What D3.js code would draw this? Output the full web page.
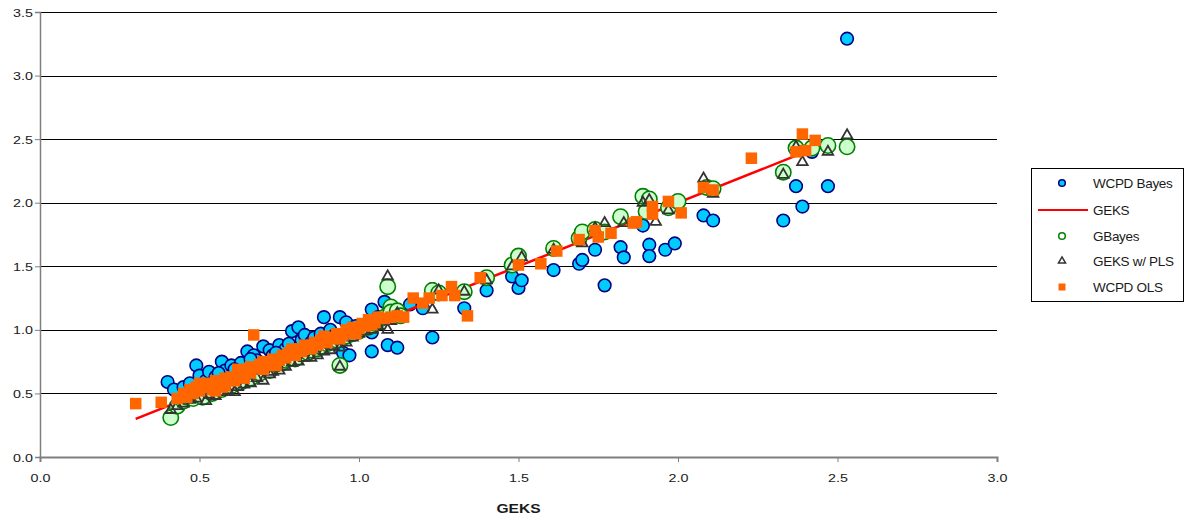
<!DOCTYPE html>
<html>
<head>
<meta charset="utf-8">
<script src="https://cdn.jsdelivr.net/npm/d3@7/dist/d3.min.js"></script>
<style>
  html, body { margin: 0; padding: 0; background: #fff; }
  svg { display: block; }
  text { font-family: "Liberation Sans", Arial, sans-serif; fill: #1a1a1a; }
</style>
</head>
<body>
<svg id="chart" width="1189" height="522"></svg>
<script>
// ---------------- DATA ----------------
const xTicks = [0.0, 0.5, 1.0, 1.5, 2.0, 2.5, 3.0];
const yTicks = [0.0, 0.5, 1.0, 1.5, 2.0, 2.5, 3.0, 3.5];
const seriesNames = ["WCPD Bayes", "GEKS", "GBayes", "GEKS w/ PLS", "WCPD OLS"];
const xTitle = "GEKS";

// WCPD Bayes
const bayesX = [0.40,0.42,0.45,0.47,0.49,0.50,0.52,0.53,0.55,0.57,0.58,0.60,0.62,0.63,0.65,0.67,0.68,0.70,0.72,0.73,
  0.75,0.77,0.79,0.81,0.82,0.83,0.85,0.86,0.88,0.89,0.91,0.92,0.94,0.95,0.97,0.96,0.98,0.99,1.01,1.04,
  1.04,1.04,1.06,1.07,1.08,1.09,1.10,1.12,1.13,1.16,1.20,1.23,1.23,1.25,1.33,1.40,1.48,1.50,1.51,1.61,
  1.69,1.70,1.74,1.77,1.82,1.83,1.89,1.91,1.91,1.96,1.99,2.08,2.11,2.33,2.37,2.39,2.42,2.47,2.53,
  0.56,0.61,0.66,0.74,0.78];
const bayesY = [0.59,0.53,0.55,0.58,0.72,0.64,0.60,0.67,0.63,0.75,0.68,0.72,0.70,0.74,0.83,0.80,0.76,0.87,0.84,0.80,
  0.88,0.85,0.99,1.02,0.92,0.96,0.90,0.94,0.97,1.10,1.00,0.95,1.10,0.82,0.80,1.06,1.00,1.03,1.02,1.16,
  0.98,0.83,1.10,1.08,1.22,0.88,1.15,0.86,1.12,1.20,1.17,0.94,1.32,1.29,1.17,1.31,1.42,1.33,1.39,1.47,
  1.52,1.55,1.63,1.35,1.65,1.57,1.82,1.67,1.58,1.63,1.68,1.90,1.86,1.86,2.13,1.97,2.40,2.13,3.29,
  0.66,0.69,0.77,0.82,0.89];

// GEKS (reference line)
const geksX = [0.30, 2.38];
const geksY = [0.30, 2.38];

// GBayes
const gbayesX = [0.41,0.43,0.45,0.46,0.48,0.50,0.51,0.53,0.54,0.56,0.57,0.59,0.60,0.62,0.63,0.65,0.66,0.68,0.69,0.71,
  0.72,0.74,0.76,0.77,0.79,0.80,0.82,0.84,0.85,0.87,0.88,0.90,0.91,0.93,0.94,0.95,0.96,0.98,1.00,1.01,
  1.03,1.05,1.06,1.08,1.09,1.10,1.10,1.12,1.13,1.23,1.25,1.33,1.40,1.48,1.50,1.61,1.69,1.70,1.74,1.77,
  1.82,1.89,1.91,1.90,1.97,2.00,2.09,2.11,2.33,2.37,2.42,2.47,2.53];
const gbayesY = [0.31,0.40,0.44,0.47,0.46,0.49,0.47,0.52,0.50,0.55,0.53,0.58,0.56,0.61,0.59,0.64,0.62,0.67,0.66,0.70,
  0.68,0.73,0.74,0.76,0.78,0.77,0.81,0.82,0.84,0.85,0.87,0.89,0.90,0.92,0.72,0.94,0.95,0.97,0.99,1.01,
  1.02,1.05,1.08,1.10,1.34,1.18,1.14,1.15,1.11,1.31,1.29,1.30,1.41,1.51,1.58,1.64,1.72,1.77,1.79,1.77,
  1.89,2.05,2.03,1.93,1.96,2.01,2.12,2.11,2.24,2.43,2.43,2.45,2.44];

// GEKS w/ PLS
const plsX = [0.41,0.43,0.45,0.47,0.49,0.52,0.53,0.55,0.57,0.59,0.61,0.62,0.64,0.66,0.68,0.70,0.72,0.73,0.75,0.77,
  0.79,0.81,0.83,0.85,0.87,0.89,0.91,0.92,0.94,0.94,0.96,0.98,1.00,1.02,1.04,1.06,1.09,1.09,1.10,1.12,
  1.23,1.25,1.33,1.40,1.48,1.51,1.61,1.70,1.74,1.77,1.83,1.89,1.91,1.93,1.97,2.08,2.11,2.33,2.37,2.39,
  2.47,2.53];
const plsY = [0.37,0.40,0.42,0.45,0.46,0.44,0.49,0.48,0.51,0.52,0.51,0.55,0.57,0.58,0.62,0.60,0.65,0.67,0.68,0.71,
  0.74,0.75,0.78,0.78,0.80,0.83,0.84,0.87,0.71,0.86,0.90,0.94,0.97,0.99,1.00,1.03,1.00,1.42,1.07,1.13,
  1.16,1.31,1.30,1.39,1.50,1.57,1.63,1.68,1.80,1.84,1.84,2.00,2.02,1.85,1.94,2.19,2.07,2.22,2.44,2.32,
  2.40,2.53];

// WCPD OLS
const olsX = [0.30,0.38,0.43,0.45,0.46,0.47,0.48,0.49,0.50,0.51,0.52,0.53,0.54,0.55,0.56,0.57,0.58,0.59,0.60,0.61,
  0.62,0.63,0.64,0.65,0.66,0.67,0.68,0.69,0.70,0.71,0.72,0.73,0.75,0.76,0.77,0.78,0.80,0.81,0.82,0.84,
  0.85,0.86,0.87,0.88,0.90,0.91,0.92,0.93,0.95,0.96,0.97,0.98,1.00,1.01,1.02,1.03,1.05,1.06,1.08,1.10,
  1.12,1.14,1.17,1.20,1.22,1.26,1.29,1.30,1.34,1.38,1.50,1.57,1.62,1.69,1.74,1.75,1.79,1.86,1.87,1.92,
  1.92,1.97,2.01,2.08,2.11,2.23,2.37,2.39,2.40,2.43,
  0.50,0.55,0.58,0.62,0.66,0.70,0.74,0.79,0.83,0.89,0.94,0.99,1.04];
const olsY = [0.42,0.43,0.46,0.50,0.47,0.53,0.50,0.55,0.52,0.57,0.55,0.58,0.53,0.60,0.57,0.55,0.62,0.60,0.63,0.60,
  0.66,0.64,0.62,0.69,0.66,0.96,0.70,0.73,0.69,0.75,0.72,0.77,0.76,0.80,0.78,0.82,0.80,0.85,0.83,0.87,
  0.85,0.90,0.88,0.92,0.90,0.94,0.93,0.97,0.96,1.00,0.98,1.02,1.01,1.05,1.03,1.08,1.06,1.10,1.09,1.10,
  1.11,1.10,1.25,1.21,1.25,1.27,1.34,1.27,1.11,1.41,1.51,1.52,1.62,1.71,1.78,1.73,1.76,1.84,1.85,1.97,
  1.91,2.01,1.92,2.12,2.10,2.35,2.40,2.54,2.41,2.49,
  0.58,0.52,0.56,0.69,0.71,0.75,0.72,0.85,0.88,0.95,0.93,0.97,1.04];

// ---------------- CHART ----------------
const svg = d3.select("#chart");
const x = d3.scaleLinear().domain([0, 3]).range([40, 997]);
const y = d3.scaleLinear().domain([0, 3.5]).range([457, 12]);

const zip = (xs, ys) => xs.map((v, i) => ({x: v, y: ys[i]}));

// gridlines
svg.append("g").selectAll("line").data(yTicks.filter(d => d > 0)).join("line")
  .attr("x1", x(0)).attr("x2", x(3))
  .attr("y1", d => Math.round(y(d)) + 0.5).attr("y2", d => Math.round(y(d)) + 0.5)
  .attr("stroke", "#000").attr("stroke-width", 1);

// axes
const yAxis = svg.append("g").attr("transform", `translate(${x(0)},0)`)
  .call(d3.axisLeft(y).tickValues(yTicks).tickSize(5).tickFormat(d3.format(".1f")));
const xAxis = svg.append("g").attr("transform", `translate(0,${y(0)})`)
  .call(d3.axisBottom(x).tickValues(xTicks).tickSize(5).tickFormat(d3.format(".1f")));
[yAxis, xAxis].forEach(g => {
  g.select(".domain").attr("stroke", "#7f7f7f").attr("stroke-width", 1.5);
  g.selectAll(".tick line").attr("stroke", "#7f7f7f");
  g.selectAll(".tick text").attr("font-size", 11).attr("fill", "#1a1a1a")
    .attr("font-family", "Liberation Sans, Arial, sans-serif");
});
xAxis.select(".domain").attr("stroke-width", 2);
// horizontally widen tick labels to match reference rendering
yAxis.selectAll(".tick text").attr("x", null).attr("dy", null)
  .attr("text-anchor", "end")
  .attr("transform", "translate(-7,4) scale(1.3,1)");
xAxis.selectAll(".tick text").attr("y", null).attr("dy", null)
  .attr("transform", "translate(0,25) scale(1.3,1)");

// axis title
svg.append("text").attr("transform", `translate(${(x(0)+x(3))/2},513) scale(1.3,1)`)
  .attr("text-anchor", "middle").attr("font-size", 12).attr("font-weight", "bold")
  .text(xTitle);

// series: WCPD Bayes
svg.append("g").selectAll("circle").data(zip(bayesX, bayesY)).join("circle")
  .attr("cx", d => x(d.x)).attr("cy", d => y(d.y)).attr("r", 6.3)
  .attr("fill", "#00CCFF").attr("stroke", "#000080").attr("stroke-width", 1.6);

// GEKS line
svg.append("path").datum(zip(geksX, geksY))
  .attr("d", d3.line().x(d => x(d.x)).y(d => y(d.y)))
  .attr("fill", "none").attr("stroke", "#FF0000").attr("stroke-width", 2.5);

// GBayes
svg.append("g").selectAll("circle").data(zip(gbayesX, gbayesY)).join("circle")
  .attr("cx", d => x(d.x)).attr("cy", d => y(d.y)).attr("r", 7.7)
  .attr("fill", "#CCFFCC").attr("stroke", "#008000").attr("stroke-width", 1.6);

// GEKS w/ PLS
const tri = d3.symbol().type(d3.symbolTriangle).size(48);
svg.append("g").selectAll("path").data(zip(plsX, plsY)).join("path")
  .attr("d", tri).attr("transform", d => `translate(${x(d.x)},${y(d.y)})`)
  .attr("fill", "none").attr("stroke", "#333333").attr("stroke-width", 1.8);

// WCPD OLS
const sq = 11.5;
svg.append("g").selectAll("rect").data(zip(olsX, olsY)).join("rect")
  .attr("x", d => x(d.x) - sq/2).attr("y", d => y(d.y) - sq/2)
  .attr("width", sq).attr("height", sq).attr("fill", "#FF6600");

// ---------------- LEGEND ----------------
const lg = svg.append("g");
lg.append("rect").attr("x", 1031.5).attr("y", 168.5).attr("width", 152).attr("height", 133)
  .attr("fill", "#fff").attr("stroke", "#000").attr("stroke-width", 1);
const rowY = [183, 210, 236, 261, 287];
const mx = 1062;
lg.append("circle").attr("cx", mx).attr("cy", rowY[0]).attr("r", 3.3)
  .attr("fill", "#00CCFF").attr("stroke", "#000080").attr("stroke-width", 1.5);
lg.append("line").attr("x1", 1038).attr("x2", 1088).attr("y1", rowY[1]).attr("y2", rowY[1])
  .attr("stroke", "#FF0000").attr("stroke-width", 2);
lg.append("circle").attr("cx", mx).attr("cy", rowY[2]).attr("r", 3.3)
  .attr("fill", "#fff").attr("stroke", "#008000").attr("stroke-width", 1.5);
lg.append("path").attr("d", d3.symbol().type(d3.symbolTriangle).size(22))
  .attr("transform", `translate(${mx},${rowY[3]})`)
  .attr("fill", "none").attr("stroke", "#333").attr("stroke-width", 1.5);
lg.append("rect").attr("x", mx - 3.5).attr("y", rowY[4] - 3.5).attr("width", 7).attr("height", 7)
  .attr("fill", "#FF6600");
lg.selectAll("text.lab").data(seriesNames).join("text").attr("class", "lab")
  .attr("x", 1093).attr("y", (d, i) => rowY[i] + 5)
  .attr("font-size", 13.5).attr("letter-spacing", -0.3).text(d => d);
</script>
</body>
</html>
